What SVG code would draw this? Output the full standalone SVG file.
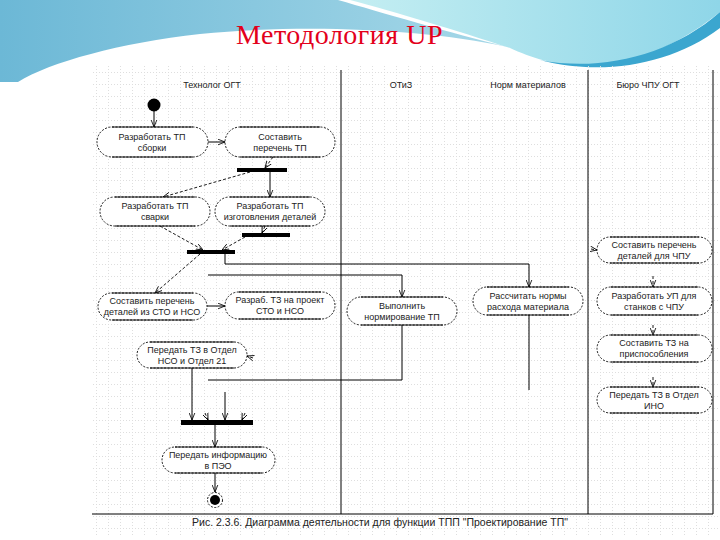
<svg xmlns="http://www.w3.org/2000/svg" width="720" height="540" viewBox="0 0 720 540">
<style>
.t{font-family:"Liberation Sans",Arial,sans-serif;font-size:9px;fill:#222;text-anchor:middle}
.h{font-family:"Liberation Sans",Arial,sans-serif;font-size:9px;fill:#222;text-anchor:middle}
.cap{fill:#fff;stroke:#000;stroke-width:0.9;stroke-dasharray:2 1.5}
.edge{fill:none;stroke:#000;stroke-width:0.9}
.ln{fill:none;stroke:#000;stroke-width:1}
.sol{fill:none;stroke:#000;stroke-width:1;marker-end:url(#a)}
.dsh{fill:none;stroke:#000;stroke-width:0.9;stroke-dasharray:3 2;marker-end:url(#a)}
.bar{fill:#000}
</style>
<defs>
<linearGradient id="gl" x1="0" y1="0" x2="1" y2="0">
<stop offset="0" stop-color="#6cb8d6"/><stop offset="1" stop-color="#a6d8e8"/>
</linearGradient>
<linearGradient id="gr" x1="0" y1="0" x2="1" y2="0">
<stop offset="0" stop-color="#c4eef2"/><stop offset="1" stop-color="#8fd6e8"/>
</linearGradient>
<pattern id="grid" width="12" height="12" patternUnits="userSpaceOnUse">
<path d="M0,0.5 H12 M0.5,0 V12" stroke="#dedede" stroke-width="1" stroke-dasharray="1 2"/>
</pattern>
<marker id="a" viewBox="0 0 10 10" refX="10" refY="5" markerWidth="7" markerHeight="7" orient="auto" markerUnits="userSpaceOnUse">
<path d="M0,1 L10,5 L0,9" fill="none" stroke="#000" stroke-width="1.2"/>
</marker>
</defs>
<rect width="720" height="540" fill="#fff"/>
<g id="background">
<path d="M0,0 L338,0 C380,12 450,33 508,47 C420,28 300,24 200,34 C120,43 50,62 18,82 L0,82 Z" fill="url(#gl)"/>
<path d="M350,0 L720,0 L720,12 C690,36 650,60 600,66 C560,68 532,58 510,48 C455,30 395,12 350,0 Z" fill="url(#gr)"/>
<path d="M540,60 C600,72 670,56 720,12 L720,28 C670,66 600,76 540,60 Z" fill="#3ba6cf"/>
</g>
<text x="236" y="44" font-family="Liberation Serif,'Times New Roman',serif" font-size="28" letter-spacing="0.5" fill="#e3001b">Методология UP</text>
<rect x="92" y="66" width="626" height="470" fill="url(#grid)"/>
<g id="lanes">
<path class="ln" d="M341,70 V514 M588,70 V514 M713,70 V514 M92,514 H713"/>
<text class="h" x="212" y="88">Технолог ОГТ</text>
<text class="h" x="401" y="88">ОТиЗ</text>
<text class="h" x="528" y="88">Норм материалов</text>
<text class="h" x="648" y="88">Бюро ЧПУ ОГТ</text>
</g>
<g id="connectors">
<path class="sol" d="M154,111 V127"/>
<path class="sol" d="M208,142 H225"/>
<path class="dsh" d="M273,157 L265,168"/>
<path class="dsh" d="M250,172 L163,197"/>
<path class="sol" d="M270,172 V197"/>
<path class="dsh" d="M265,226 L262,233"/>
<path class="dsh" d="M160,226 L203,250"/>
<path class="dsh" d="M245,237 L222,250"/>
<path class="dsh" d="M200,254 L155,293"/>
<path class="sol" d="M225,254 V264 H529 V287"/>
<path class="sol" d="M208,275 H402 V297"/>
<path class="ln" d="M402,325 V380 H208"/>
<path class="ln" d="M529,315 V390"/>
<path class="sol" d="M207,306 H225"/>
<path class="dsh" d="M253,358 L247,356"/>
<path class="sol" d="M192,368 V420"/>
<path class="sol" d="M225,392 V420"/>
<path class="dsh" d="M205,413 L208,420"/>
<path class="dsh" d="M245,413 L242,420"/>
<path class="sol" d="M215,425 V447"/>
<path class="sol" d="M215,473 V492"/>
<path class="dsh" d="M591,249 L597,250"/>
<path class="dsh" d="M653,276 V287"/>
<path class="dsh" d="M653,325 V335"/>
<path class="dsh" d="M653,377 V387"/>
</g>
<g id="start"><circle cx="154" cy="105" r="6.5" fill="#000"/></g>
<g id="end"><circle cx="215" cy="500" r="7.5" fill="#fff" stroke="#000" stroke-width="0.9" stroke-dasharray="2 1.5"/><circle cx="215" cy="500" r="5" fill="#000"/></g>
<g id="bar1"><rect class="bar" x="237" y="168" width="50" height="4"/></g>
<g id="bar2"><rect class="bar" x="242" y="233" width="48" height="4"/></g>
<g id="bar3"><rect class="bar" x="187" y="250" width="48" height="4"/></g>
<g id="bar4"><rect class="bar" x="181" y="420" width="72" height="5"/></g>
<g id="n1"><rect class="cap" x="97" y="127" width="111" height="30" rx="15"/><path class="edge" d="M112,127 H193 M112,157 H193"/><text class="t" x="152" y="140">Разработать ТП</text><text class="t" x="152" y="151">сборки</text></g>
<g id="n2"><rect class="cap" x="225" y="127" width="110" height="30" rx="15"/><path class="edge" d="M240,127 H320 M240,157 H320"/><text class="t" x="280" y="140">Составить</text><text class="t" x="280" y="151">перечень ТП</text></g>
<g id="n3"><rect class="cap" x="100" y="197" width="110" height="29" rx="14.5"/><path class="edge" d="M115,197 H195 M115,226 H195"/><text class="t" x="155" y="209">Разработать ТП</text><text class="t" x="155" y="220">сварки</text></g>
<g id="n4"><rect class="cap" x="215" y="197" width="110" height="29" rx="14.5"/><path class="edge" d="M230,197 H310 M230,226 H310"/><text class="t" x="270" y="209">Разработать ТП</text><text class="t" x="270" y="220">изготовления деталей</text></g>
<g id="n5"><rect class="cap" x="98" y="293" width="109" height="27" rx="13.5"/><path class="edge" d="M112,293 H193 M112,320 H193"/><text class="t" x="152" y="304">Составить перечень</text><text class="t" x="152" y="315">деталей из СТО и НСО</text></g>
<g id="n6"><rect class="cap" x="225" y="292" width="110" height="27" rx="13.5"/><path class="edge" d="M239,292 H321 M239,319 H321"/><text class="t" x="280" y="303">Разраб. ТЗ на проект</text><text class="t" x="280" y="314">СТО и НСО</text></g>
<g id="n7"><rect class="cap" x="347" y="297" width="110" height="28" rx="14"/><path class="edge" d="M361,297 H443 M361,325 H443"/><text class="t" x="402" y="309">Выполнить</text><text class="t" x="402" y="320">нормирование ТП</text></g>
<g id="n8"><rect class="cap" x="473" y="287" width="110" height="28" rx="14"/><path class="edge" d="M487,287 H569 M487,315 H569"/><text class="t" x="528" y="299">Рассчитать нормы</text><text class="t" x="528" y="310">расхода материала</text></g>
<g id="n9"><rect class="cap" x="597" y="237" width="115" height="26" rx="13"/><path class="edge" d="M610,237 H699 M610,263 H699"/><text class="t" x="654" y="248">Составить перечень</text><text class="t" x="654" y="259">деталей для ЧПУ</text></g>
<g id="n10"><rect class="cap" x="597" y="287" width="115" height="28" rx="14"/><path class="edge" d="M611,287 H698 M611,315 H698"/><text class="t" x="654" y="299">Разработать УП для</text><text class="t" x="654" y="310">станков с ЧПУ</text></g>
<g id="n11"><rect class="cap" x="597" y="335" width="115" height="27" rx="13.5"/><path class="edge" d="M611,335 H698 M611,362 H698"/><text class="t" x="654" y="346">Составить ТЗ на</text><text class="t" x="654" y="357">приспособления</text></g>
<g id="n12"><rect class="cap" x="597" y="387" width="115" height="26" rx="13"/><path class="edge" d="M610,387 H699 M610,413 H699"/><text class="t" x="654" y="398">Передать ТЗ в Отдел</text><text class="t" x="654" y="409">ИНО</text></g>
<g id="n13"><rect class="cap" x="137" y="342" width="110" height="26" rx="13"/><path class="edge" d="M150,342 H234 M150,368 H234"/><text class="t" x="192" y="353">Передать ТЗ в Отдел</text><text class="t" x="192" y="364">НСО и Отдел 21</text></g>
<g id="n14"><rect class="cap" x="162" y="447" width="113" height="26" rx="13"/><path class="edge" d="M175,447 H262 M175,473 H262"/><text class="t" x="218" y="458">Передать информацию</text><text class="t" x="218" y="469">в ПЭО</text></g>
<text x="380" y="526" font-family="Liberation Sans,Arial,sans-serif" font-size="10.5" fill="#222" text-anchor="middle">Рис. 2.3.6. Диаграмма деятельности для функции ТПП "Проектирование ТП"</text>
</svg>
